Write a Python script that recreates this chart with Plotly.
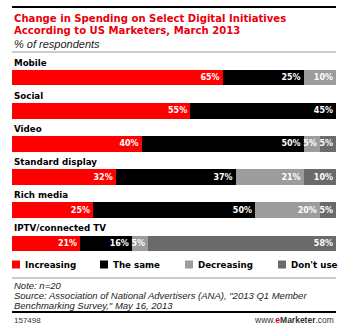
import plotly.graph_objects as go

categories = ["Mobile", "Social", "Video", "Standard display", "Rich media", "IPTV/connected TV"]
series_names = ["Increasing", "The same", "Decreasing", "Don't use"]
increasing = [65, 55, 40, 32, 25, 21]
the_same = [25, 45, 50, 37, 50, 16]
decreasing = [10, 0, 5, 21, 20, 5]
dont_use = [0, 0, 5, 10, 5, 58]
series_values = [increasing, the_same, decreasing, dont_use]
colors = ["#ff0000", "#000000", "#9c9c9c", "#6a6a6a"]

title_lines = ["Change in Spending on Select Digital Initiatives",
               "According to US Marketers, March 2013"]
subtitle = "% of respondents"
note_lines = ["Note: n=20",
              "Source: Association of National Advertisers (ANA), \"2013 Q1 Member",
              "Benchmarking Survey,\" May 16, 2013"]
chart_id = "157498"

W, H = 343, 332
L, R, T, B = 12, 7, 61, 72
PW = W - L - R
PH = H - T - B


def px(x):
    return (x - L) / PW


def py(y):
    return (H - B - y) / PH


BOLD = "DejaVu Sans"
REG = "Liberation Sans"

fig = go.Figure()
for name, vals, col in zip(series_names, series_values, colors):
    fig.add_trace(go.Bar(
        y=categories, x=vals, name=name, orientation="h",
        marker=dict(color=col, line=dict(width=0)),
        width=0.47,
        text=[f"{v}%" if v else "" for v in vals],
        textposition="inside", insidetextanchor="end",
        constraintext="none",
        textfont=dict(color="white", family=BOLD, size=8, weight="bold"),
        hoverinfo="skip", showlegend=False,
    ))

ann = []
shapes = []

# category labels above bars
for c in categories:
    ann.append(dict(x=0, xref="paper", y=c, yref="y", yshift=15,
                    text=c, showarrow=False, xanchor="left", yanchor="middle",
                    font=dict(family=BOLD, size=8.7, color="black", weight="bold")))

# title
for i, line in enumerate(title_lines):
    ann.append(dict(x=px(12), y=py(18 + 12.7 * i), xref="paper", yref="paper",
                    text=line, showarrow=False, xanchor="left", yanchor="middle",
                    font=dict(family=BOLD, size=10.1, color="#e8000b", weight="bold")))
ann.append(dict(x=px(12), y=py(44), xref="paper", yref="paper",
                text=f"<i>{subtitle}</i>", showarrow=False, xanchor="left", yanchor="middle",
                font=dict(family=REG, size=11, color="#222222")))

# legend
leg_x = [12, 100, 185, 278]
for name, col, lx in zip(series_names, colors, leg_x):
    shapes.append(dict(type="rect", xref="paper", yref="paper",
                       x0=px(lx), x1=px(lx + 8), y0=py(268.5), y1=py(260.5),
                       fillcolor=col, line=dict(width=0)))
    ann.append(dict(x=px(lx + 11), y=py(264.5), xref="paper", yref="paper",
                    text=name, showarrow=False, xanchor="left", yanchor="middle",
                    font=dict(family=BOLD, size=8.7, color="black", weight="bold")))

# notes
for i, line in enumerate(note_lines):
    ann.append(dict(x=px(12), y=py(285.5 + 10 * i), xref="paper", yref="paper",
                    text=f"<i>{line}</i>", showarrow=False, xanchor="left", yanchor="middle",
                    font=dict(family=REG, size=9.5, color="#222222")))

# footer
ann.append(dict(x=px(12), y=py(320), xref="paper", yref="paper",
                text=chart_id, showarrow=False, xanchor="left", yanchor="middle",
                font=dict(family=REG, size=8, color="#333333")))
ann.append(dict(x=px(336), y=py(320), xref="paper", yref="paper",
                text="www.<b><span style='color:#e8000b'>e</span>Marketer</b>.com",
                showarrow=False, xanchor="right", yanchor="middle",
                font=dict(family=REG, size=8.5, color="#333333")))

# rules
for y, col, wdt in [(7, "black", 2), (52, "#999999", 1), (278, "#999999", 1), (312, "black", 2)]:
    shapes.append(dict(type="line", xref="paper", yref="paper",
                       x0=0, x1=1, y0=py(y), y1=py(y), line=dict(color=col, width=wdt)))

fig.update_layout(
    width=W, height=H, barmode="stack",
    margin=dict(l=L, r=R, t=T, b=B, pad=0),
    paper_bgcolor="white", plot_bgcolor="white",
    xaxis=dict(range=[0, 100], visible=False, fixedrange=True),
    yaxis=dict(categoryorder="array", categoryarray=categories,
               range=[5.5, -0.5], visible=False, fixedrange=True),
    annotations=ann, shapes=shapes,
)
fig.write_html("out.html", config={"displayModeBar": False})
